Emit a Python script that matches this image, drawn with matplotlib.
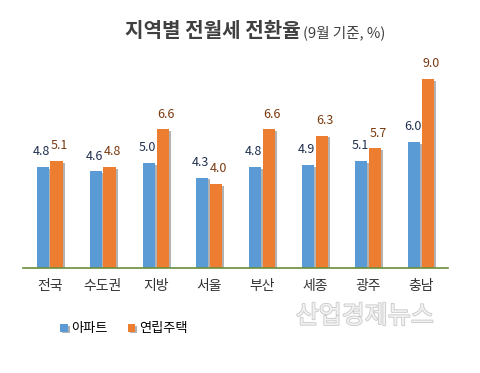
import numpy as np
import matplotlib
matplotlib.use('Agg')
import matplotlib.pyplot as plt
import matplotlib.patheffects as pe

plt.rcParams['font.family'] = ['Noto Sans CJK KR', 'DejaVu Sans']

regions = ['전국', '수도권', '지방', '서울', '부산', '세종', '광주', '충남']
apt = [4.8, 4.6, 5.0, 4.3, 4.8, 4.9, 5.1, 6.0]
villa = [5.1, 4.8, 6.6, 4.0, 6.6, 6.3, 5.7, 9.0]

blue = '#5b9bd5'
orange = '#ed7d31'

fig = plt.figure(figsize=(4.8, 3.73), dpi=100)
ax = fig.add_axes([0.048, 0.2815, 0.885, 0.563])

x = np.arange(len(regions))
w = 0.23
gap = 0.03
shadow = [pe.SimplePatchShadow(offset=(1.5, -1.2), shadow_rgbFace='#555555', alpha=0.45), pe.Normal()]
b1 = ax.bar(x - w / 2 - gap / 2, apt, w, color=blue, label='아파트')
b2 = ax.bar(x + w / 2 + gap / 2, villa, w, color=orange, label='연립주택')
for r in list(b1) + list(b2):
    r.set_path_effects(shadow)

for xi, v in zip(x, apt):
    ax.annotate(f'{v:.1f}', (xi - w / 2 - gap / 2, v), xytext=(-1, 11), textcoords='offset points',
                ha='center', va='center', fontsize=9, color='#1f3050')
for xi, v in zip(x, villa):
    ax.annotate(f'{v:.1f}', (xi + w / 2 + gap / 2, v), xytext=(2, 11), textcoords='offset points',
                ha='center', va='center', fontsize=9, color='#7a3a10')

ax.set_xlim(-0.5, len(regions) - 0.5)
ax.set_ylim(0, 10)
ax.set_yticks([])
ax.set_xticks(x)
ax.set_xticklabels(regions, fontsize=10, color='#333333')
ax.tick_params(axis='x', length=0, pad=8)
for s in ['top', 'right', 'left']:
    ax.spines[s].set_visible(False)
ax.spines['bottom'].set_color('#6b8e3a')
ax.spines['bottom'].set_linewidth(1.2)

t = fig.text(0.26, 0.918, '지역별 전월세 전환율', fontsize=14.5, fontweight='bold', color='#404040',
             ha='left', va='center')
fig.canvas.draw()
bb = t.get_window_extent().transformed(fig.transFigure.inverted())
fig.text(bb.x1 + 0.006, 0.912, '(9월 기준, %)', fontsize=10.5, color='#404040', ha='left', va='center')

fig.legend(handles=[b1, b2], loc='center', bbox_to_anchor=(0.258, 0.118), ncol=2, frameon=False,
           fontsize=9.5, handlelength=0.55, handleheight=0.55, handletextpad=0.3, columnspacing=1.5)

fig.text(0.76, 0.152, '산업경제뉴스', fontsize=18, color='#f2f2f2', ha='center', va='center',
         path_effects=[pe.withStroke(linewidth=1.2, foreground='#c8c8c8')])

fig.savefig('out.png', dpi=100)
